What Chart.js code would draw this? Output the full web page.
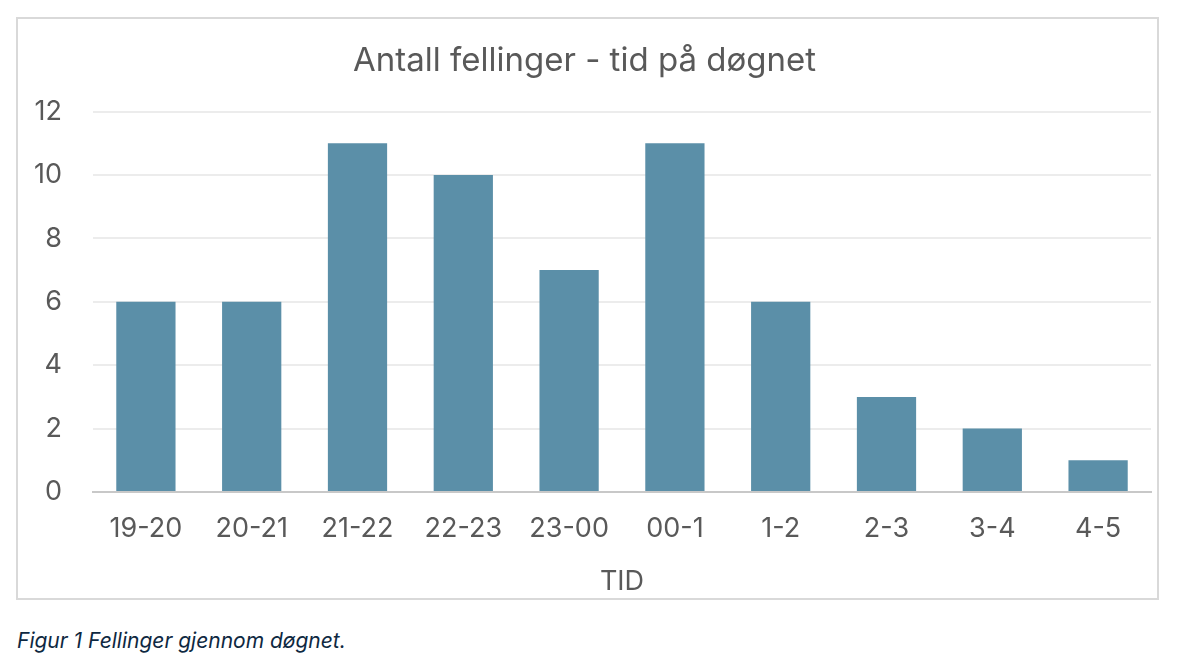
<!DOCTYPE html>
<html>
<head>
<meta charset="utf-8">
<script src="https://cdn.jsdelivr.net/npm/chart.js@4"></script>
<style>
  html,body{margin:0;padding:0;background:#fff;}
  body{width:1177px;height:657px;position:relative;overflow:hidden;font-family:Inter,"Noto Sans",sans-serif;}
  #box{position:absolute;left:16px;top:17px;width:1139px;height:579px;border:2px solid #d9d9d9;}
  #wrap{position:absolute;left:0;top:0;width:1139px;height:579px;}
  #cap{position:absolute;left:17px;top:628px;font-size:21px;font-style:italic;color:#0e2841;}
</style>
</head>
<body>
<div id="box"><div id="wrap"><canvas id="chart"></canvas></div></div>
<div id="cap">Figur 1 Fellinger gjennom døgnet.</div>
<script>
const tider = ['19-20','20-21','21-22','22-23','23-00','00-1','1-2','2-3','3-4','4-5'];
const fellinger = [6, 6, 11, 10, 7, 11, 6, 3, 2, 1];
const yTicks = [0, 2, 4, 6, 8, 10, 12];

const FONT = 'Inter, "Noto Sans", sans-serif';
const GREY = '#595959';

new Chart(document.getElementById('chart'), {
  type: 'bar',
  data: {
    labels: tider,
    datasets: [{
      label: 'Antall fellinger',
      data: fellinger,
      backgroundColor: '#5b8fa8',
      categoryPercentage: 1,
      barPercentage: 0.56
    }]
  },
  options: {
    responsive: true,
    maintainAspectRatio: false,
    animation: false,
    layout: { padding: { left: 0, right: 6, top: 0, bottom: 0 } },
    plugins: {
      legend: { display: false },
      tooltip: { enabled: false },
      title: {
        display: true,
        text: 'Antall fellinger - tid på døgnet',
        color: GREY,
        font: { family: FONT, size: 33, weight: 'normal' },
        padding: { top: 22, bottom: 31 }
      }
    },
    scales: {
      x: {
        grid: { display: false, drawTicks: false },
        border: { display: true, color: '#c8c8c8', width: 2 },
        ticks: { color: GREY, font: { family: FONT, size: 27 }, padding: 21, maxRotation: 0 },
        title: { display: true, text: 'TID', color: GREY, font: { family: FONT, size: 27 }, padding: { top: 14, bottom: 0 } },
        afterFit: s => { s.height = 106; }
      },
      y: {
        min: 0, max: 12,
        afterBuildTicks: s => { s.ticks = yTicks.map(v => ({ value: v })); },
        grid: { color: c => c.tick && c.tick.value === 0 ? 'rgba(0,0,0,0)' : '#ececec', lineWidth: 2, drawTicks: false },
        border: { display: false },
        ticks: { color: GREY, font: { family: FONT, size: 27 }, padding: 31 },
        afterFit: s => { s.width = 75; }
      }
    }
  }
});
</script>
</body>
</html>
